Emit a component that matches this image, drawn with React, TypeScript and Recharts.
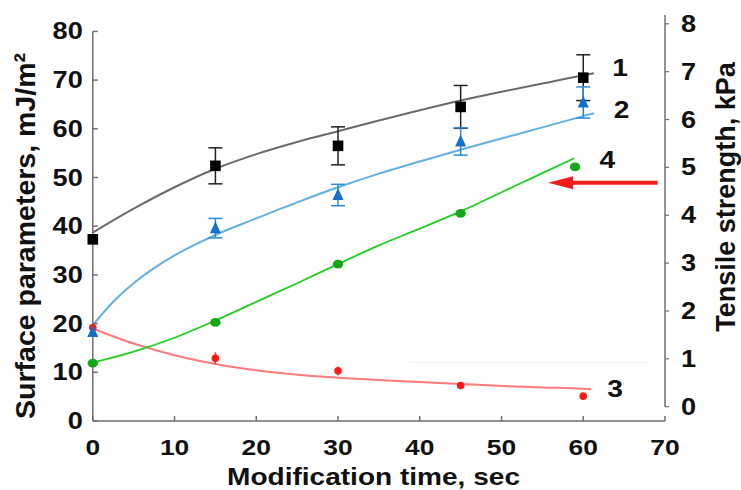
import React from "react";
import {
  ComposedChart,
  XAxis,
  YAxis,
  Line,
  Scatter,
  ErrorBar,
  ReferenceLine,
  ReferenceDot,
} from "recharts";

// ---- data ----
const times = [0, 15, 30, 45, 60];
const s1Values = [37.3, 52.4, 56.5, 64.5, 70.5];
const s1Errors = [0, 3.7, 3.9, 4.4, 4.7];
const s2Values = [18.3, 39.6, 46.4, 57.4, 65.4];
const s2Errors = [0, 2.0, 2.2, 2.8, 3.2];
const s3Values = [19.2, 12.9, 10.3, 7.3, 5.1];
const s3Errors = [0, 1.2, 0.9, 0, 0];
const s4Times = [0, 15, 30, 45, 59];
const s4Values = [0.91, 1.76, 2.98, 4.04, 5.01];

const fit1X = [0, 5, 10, 15, 20, 25, 30, 35, 40, 45, 50, 55, 60, 61.3];
const fit1Y = [38.7, 43.6, 48.0, 51.8, 54.8, 57.3, 59.5, 61.7, 63.8, 65.8, 67.6, 69.3, 71.0, 71.4];
const fit2X = [0, 2.5, 5, 7.5, 10, 12.5, 15, 20, 25, 30, 35, 40, 45, 50, 55, 60, 61.3];
const fit2Y = [19.7, 24.5, 28.3, 31.4, 34.0, 36.2, 38.2, 41.6, 44.9, 48.0, 50.8, 53.3, 55.7, 58.0, 60.3, 62.6, 63.2];
const fit3X = [0, 5, 10, 15, 20, 25, 30, 35, 40, 45, 50, 55, 60, 61];
const fit3Y = [19.0, 15.9, 13.5, 11.7, 10.4, 9.5, 8.9, 8.4, 8.0, 7.6, 7.2, 6.9, 6.6, 6.5];
const fit4X = [0, 5, 10, 15, 20, 25, 30, 35, 40, 45, 50, 55, 58.9];
const fit4Y = [0.92, 1.15, 1.44, 1.8, 2.19, 2.58, 2.98, 3.37, 3.72, 4.08, 4.48, 4.88, 5.19];

const xTicks = [0, 10, 20, 30, 40, 50, 60, 70];
const leftTicks = [0, 10, 20, 30, 40, 50, 60, 70, 80];
const rightTicks = [0, 1, 2, 3, 4, 5, 6, 7, 8];

const seriesLabels = [
  { text: "1", x: 64.5, y: 72.6 },
  { text: "2", x: 64.7, y: 63.9 },
  { text: "4", x: 62.95, y: 53.7 },
  { text: "3", x: 63.9, y: 6.6 },
];

const xTitle = "Modification time, sec";
const leftTitle = "Surface parameters, mJ/m\u00B2";
const rightTitle = "Tensile strength, kPa";

// ---- built tables ----
const pts = (xs: number[], ys: number[], es?: number[]) =>
  xs.map((x, i) => ({ x, y: ys[i], e: es ? es[i] : 0 }));

const pts1 = pts(times, s1Values, s1Errors);
const pts2 = pts(times, s2Values, s2Errors);
const pts3 = pts(times, s3Values, s3Errors);
const pts4 = pts(s4Times, s4Values);
const line1 = pts(fit1X, fit1Y);
const line2 = pts(fit2X, fit2Y);
const line3 = pts(fit3X, fit3Y);
const line4 = pts(fit4X, fit4Y);

const FONT = '"Liberation Sans", Arial, Helvetica, sans-serif';
const AXIS = "#707070";
const INK = "#111";

const XTick = (p: any) => {
  const { x, y, payload } = p;
  return (
    <g>
      <line x1={x} x2={x} y1={y} y2={y - 5} stroke={AXIS} strokeWidth={1.5} />
      <text
        transform={`translate(${x},${y + 34}) scale(1.2,1)`}
        textAnchor="middle"
        fontSize={22}
        fontWeight="bold"
        fontFamily={FONT}
        fill={INK}
      >
        {payload.value}
      </text>
    </g>
  );
};

const LeftTick = (p: any) => {
  const { x, y, payload } = p;
  return (
    <g>
      <line x1={x} x2={x + 5} y1={y} y2={y} stroke={AXIS} strokeWidth={1.5} />
      <text
        transform={`translate(${x - 10},${y + 8}) scale(1.18,1)`}
        textAnchor="end"
        fontSize={23}
        fontWeight="bold"
        fontFamily={FONT}
        fill={INK}
      >
        {payload.value}
      </text>
    </g>
  );
};

const RightTick = (p: any) => {
  const { x, y, payload } = p;
  return (
    <g>
      <line x1={x} x2={x + 4} y1={y} y2={y} stroke={AXIS} strokeWidth={1.2} />
      <text
        transform={`translate(${x + 16},${y + 8}) scale(1.18,1)`}
        textAnchor="start"
        fontSize={23}
        fontWeight="bold"
        fontFamily={FONT}
        fill={INK}
      >
        {payload.value}
      </text>
    </g>
  );
};

const SquareShape = (p: any) => (
  <rect x={p.cx - 5.3} y={p.cy - 5.3} width={10.6} height={10.6} fill="#000" />
);
const TriangleShape = (p: any) => (
  <polygon
    points={`${p.cx},${p.cy - 7} ${p.cx - 5.5},${p.cy + 5} ${p.cx + 5.5},${p.cy + 5}`}
    fill="#1670c9"
  />
);
const RedDot = (p: any) => <circle cx={p.cx} cy={p.cy} r={3.8} fill="#ff1a1a" />;
const GreenDot = (p: any) => (
  <ellipse cx={p.cx} cy={p.cy} rx={5.2} ry={4.4} fill="#17a817" />
);

const xTitleRender = () => (
  <text
    transform="translate(373.5,484.5) scale(1.22,1)"
    textAnchor="middle"
    fontSize={23}
    fontWeight="bold"
    fontFamily={FONT}
    fill={INK}
  >
    {xTitle}
  </text>
);
const leftTitleRender = () => (
  <text
    transform="translate(35,236) rotate(-90)"
    textAnchor="middle"
    fontSize={28.5}
    fontWeight="bold"
    fontFamily={FONT}
    fill={INK}
  >
    {leftTitle}
  </text>
);
const rightTitleRender = () => (
  <text
    transform="translate(734.5,197) rotate(-90)"
    textAnchor="middle"
    fontSize={27}
    fontWeight="bold"
    fontFamily={FONT}
    fill={INK}
  >
    {rightTitle}
  </text>
);

export default function App() {
  return (
    <div
      style={{
        position: "absolute",
        left: 0,
        top: 0,
        width: 741,
        height: 490,
        background: "#fff",
      }}
    >
      <ComposedChart
        width={741}
        height={490}
        margin={{ top: 15, right: 16, bottom: 29, left: 12.8 }}
      >
        <XAxis
          dataKey="x"
          type="number"
          domain={[0, 70]}
          ticks={xTicks}
          height={40}
          tickSize={0}
          tickMargin={0}
          tickLine={false}
          axisLine={{ stroke: AXIS, strokeWidth: 1.5 }}
          tick={XTick}
          interval={0}
          label={xTitleRender}
        />
        <YAxis
          yAxisId="left"
          orientation="left"
          type="number"
          domain={[0, 83.37]}
          ticks={leftTicks}
          width={80}
          tickSize={0}
          tickMargin={0}
          tickLine={false}
          axisLine={false}
          tick={LeftTick}
          interval={0}
          label={leftTitleRender}
        />
        <YAxis
          yAxisId="right"
          orientation="right"
          type="number"
          domain={[-0.299, 8.184]}
          ticks={rightTicks}
          width={60}
          tickSize={0}
          tickMargin={0}
          tickLine={false}
          axisLine={false}
          tick={RightTick}
          interval={0}
          label={rightTitleRender}
        />

        <ReferenceLine
          yAxisId="left"
          segment={[
            { x: 0, y: 0 },
            { x: 0, y: 80 },
          ]}
          stroke={AXIS}
          strokeWidth={1.5}
        />
        <ReferenceLine
          yAxisId="right"
          segment={[
            { x: 70, y: 0 },
            { x: 70, y: 8.184 },
          ]}
          stroke={AXIS}
          strokeWidth={1.5}
        />
        <ReferenceLine
          yAxisId="left"
          segment={[
            { x: 38.8, y: 12 },
            { x: 67.9, y: 12 },
          ]}
          stroke="#f0f0f0"
          strokeWidth={1}
        />

        <Line
          yAxisId="left"
          data={line1}
          dataKey="y"
          type="monotone"
          stroke="#6b6b6b"
          strokeWidth={2}
          dot={false}
          isAnimationActive={false}
        />
        <Line
          yAxisId="left"
          data={line2}
          dataKey="y"
          type="monotone"
          stroke="#62b0e4"
          strokeWidth={2}
          dot={false}
          isAnimationActive={false}
        />
        <Line
          yAxisId="left"
          data={line3}
          dataKey="y"
          type="monotone"
          stroke="#ff7a7a"
          strokeWidth={2}
          dot={false}
          isAnimationActive={false}
        />
        <Line
          yAxisId="right"
          data={line4}
          dataKey="y"
          type="monotone"
          stroke="#1fd01f"
          strokeWidth={1.8}
          dot={false}
          isAnimationActive={false}
        />

        <Scatter
          yAxisId="left"
          data={pts3}
          dataKey="y"
          shape={RedDot}
          isAnimationActive={false}
        >
          <ErrorBar dataKey="e" direction="y" width={0} stroke="#ff3030" strokeWidth={1.5} />
        </Scatter>
        <Scatter
          yAxisId="left"
          data={pts1}
          dataKey="y"
          shape={SquareShape}
          isAnimationActive={false}
        >
          <ErrorBar dataKey="e" direction="y" width={7} stroke="#222" strokeWidth={1.5} />
        </Scatter>
        <Scatter
          yAxisId="left"
          data={pts2}
          dataKey="y"
          shape={TriangleShape}
          isAnimationActive={false}
        >
          <ErrorBar dataKey="e" direction="y" width={7} stroke="#2a8ad8" strokeWidth={1.5} />
        </Scatter>
        <Scatter
          yAxisId="right"
          data={pts4}
          dataKey="y"
          shape={GreenDot}
          isAnimationActive={false}
        />

        <ReferenceLine
          yAxisId="right"
          segment={[
            { x: 57.8, y: 4.68 },
            { x: 69.1, y: 4.68 },
          ]}
          stroke="#f21c1c"
          strokeWidth={4}
        />
        <ReferenceDot
          yAxisId="right"
          x={55.7}
          y={4.68}
          shape={(p: any) => (
            <polygon
              points={`${p.cx},${p.cy} ${p.cx + 25},${p.cy - 6.5} ${p.cx + 25},${p.cy + 6.5}`}
              fill="#f21c1c"
            />
          )}
        />

        {seriesLabels.map((l) => (
          <ReferenceDot
            key={l.text}
            yAxisId="left"
            x={l.x}
            y={l.y}
            shape={(p: any) => (
              <text
                transform={`translate(${p.cx},${p.cy + 8.5}) scale(1.2,1)`}
                textAnchor="middle"
                fontSize={23.5}
                fontWeight="bold"
                fontFamily={FONT}
                fill={INK}
              >
                {l.text}
              </text>
            )}
          />
        ))}
      </ComposedChart>
    </div>
  );
}
